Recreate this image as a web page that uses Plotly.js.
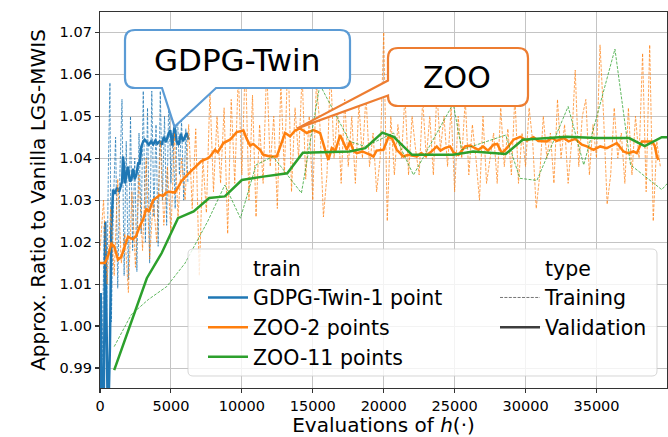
<!DOCTYPE html>
<html>
<head>
<meta charset="utf-8">
<script src="https://cdn.plot.ly/plotly-3.0.1.min.js"></script>
<style>
  html, body { margin: 0; padding: 0; background: #ffffff; }
  #chart { width: 668px; height: 437px; }
</style>
</head>
<body>
<div id="chart"></div>
<script>
// ---- GDPG-Twin-1 point ----
const gdpgTrainX = [0, 150, 300, 450, 600, 700, 800, 950, 1100, 1250, 1400, 1550, 1700, 1850, 2000, 2150, 2300, 2450, 2600, 2750,
  2900, 3050, 3200, 3350, 3500, 3650, 3800, 3950, 4100, 4250, 4400, 4550, 4700, 4850, 5000, 5150, 5300, 5450, 5600, 5750,
  5900, 6050, 6200];
const gdpgTrainY = [1.006, 0.992, 1.024, 0.998, 1.040, 1.058, 1.001, 1.030, 1.045, 1.009, 1.036, 1.054, 1.012, 1.044, 1.011, 1.050, 1.018, 1.040, 1.013, 1.046,
  1.022, 1.056, 1.020, 1.052, 1.015, 1.056, 1.026, 1.048, 1.019, 1.056, 1.030, 1.050, 1.024, 1.055, 1.034, 1.046, 1.028, 1.052, 1.036, 1.049,
  1.030, 1.047, 1.034];
const gdpgValX = [0, 50, 150, 250, 370, 480, 560, 700, 800, 920, 1050, 1200, 1350, 1480, 1560, 1620, 1700, 1760, 1850, 1975,
  2100, 2210, 2330, 2450, 2560, 2700, 2800, 2915, 3050, 3150, 3300, 3450, 3600, 3750, 3900, 4050, 4200, 4350, 4500, 4650,
  4800, 4950, 5100, 5250, 5400, 5550, 5700, 5850, 6000, 6100, 6250];
const gdpgValY = [0.975, 1.0079, 0.978, 0.975, 1.0249, 0.978, 0.975, 0.995, 1.0229, 1.0325, 1.0315, 1.0330, 1.0320, 1.0335, 1.0345, 1.0404, 1.0380, 1.0340, 1.0360, 1.0380,
  1.0345, 1.0348, 1.0375, 1.0350, 1.0360, 1.0390, 1.0385, 1.0428, 1.0440, 1.0444, 1.0438, 1.0432, 1.0440, 1.0433, 1.0442, 1.0435, 1.0440, 1.0432, 1.0451, 1.0438,
  1.0455, 1.0467, 1.0430, 1.0475, 1.0440, 1.0432, 1.0458, 1.0440, 1.0452, 1.0460, 1.0444];

// ---- ZOO-2 points ----
// training evaluations logged every 250 calls of h, starting at 0
const zoo2TrainStart = 0;
const zoo2TrainStep = 250;
const zoo2TrainY = [
  1.018, 1.030, 1.010, 1.028, 1.012, 1.035, 1.015, 1.022, 1.008, 1.032,
  1.014, 1.036, 1.018, 1.040, 1.016, 1.030, 1.020, 1.044, 1.024, 1.038,
  1.022, 1.046, 1.026, 1.040, 1.030, 1.048, 1.028, 1.047, 1.012, 1.040,
  1.027, 1.056, 1.032, 1.050, 1.034, 1.052, 1.022, 1.054, 1.034, 1.060,
  1.036, 1.064, 1.030, 1.055, 1.026, 1.048, 1.034, 1.062, 1.038, 1.050,
  1.028, 1.058, 1.036, 1.066, 1.032, 1.052, 1.040, 1.060, 1.035, 1.050,
  1.030, 1.058, 1.048, 1.026, 1.036, 1.062, 1.040, 1.052, 1.034, 1.054,
  1.038, 1.050, 1.034, 1.053, 1.040, 1.055, 1.038, 1.046, 1.032, 1.040,
  1.070, 1.025, 1.050, 1.036, 1.048, 1.040, 1.055, 1.036, 1.050, 1.042,
  1.036, 1.054, 1.040, 1.050, 1.036, 1.056, 1.042, 1.050, 1.038, 1.052,
  1.032, 1.050, 1.040, 1.054, 1.036, 1.048, 1.040, 1.030, 1.050, 1.034,
  1.040, 1.046, 1.034, 1.052, 1.038, 1.047, 1.036, 1.055, 1.034, 1.046,
  1.038, 1.052, 1.044, 1.028, 1.036, 1.050, 1.040, 1.046, 1.034, 1.054,
  1.040, 1.048, 1.034, 1.044, 1.061, 1.038, 1.050, 1.054, 1.036, 1.048,
  1.040, 1.067, 1.050, 1.029, 1.036, 1.052, 1.040, 1.046, 1.034, 1.052,
  1.036, 1.050, 1.040, 1.065, 1.032, 1.067, 1.025, 1.044, 1.038];
const zoo2ValX = [0, 350, 600, 800, 1000, 1270, 1500, 1750, 1975, 2330, 2550, 2800, 3050, 3265, 3450, 3740, 3950, 4210, 4450, 4650,
  4915, 5265, 5500, 5735, 6200, 6680, 7145, 7616, 7757, 8110, 8300, 8697, 9168, 9640, 10110, 10345, 10580, 10800, 11050, 11283,
  11516, 11990, 12460, 12813, 13046, 13400, 13750, 14100, 14576, 15045, 15515, 15870, 16100, 16340, 16600, 16925, 17150, 17395, 17630, 17865,
  18100, 18500, 18900, 19275, 19500, 19980, 20330, 20570, 20920, 21390, 21700, 22330, 22650, 22950, 23300, 23740, 24000, 24300, 24680, 24915,
  25270, 25740, 26100, 26680, 27000, 27350, 27740, 28000, 28330, 28680, 29150, 29620, 30100, 30560, 30900, 31500, 31850, 32200, 32675, 33030,
  33500, 33970, 34320, 34790, 35260, 35730, 36200, 36430, 36900, 37250, 37600, 37840, 38200, 38550, 38900, 39100, 39260, 39370];
const zoo2ValY = [1.0150, 1.0150, 1.0170, 1.0196, 1.0190, 1.0158, 1.0165, 1.0190, 1.0213, 1.0207, 1.0215, 1.0237, 1.0255, 1.0280, 1.0272, 1.0300, 1.0305, 1.0312, 1.0310, 1.0318,
  1.0320, 1.0318, 1.0330, 1.0345, 1.0362, 1.0378, 1.0393, 1.0400, 1.0404, 1.0420, 1.0414, 1.0436, 1.0444, 1.0462, 1.0466, 1.0446, 1.0430, 1.0434, 1.0426, 1.0420,
  1.0408, 1.0404, 1.0404, 1.0436, 1.0460, 1.0452, 1.0466, 1.0471, 1.0460, 1.0467, 1.0460, 1.0420, 1.0396, 1.0424, 1.0418, 1.0455, 1.0440, 1.0420, 1.0440, 1.0418,
  1.0412, 1.0416, 1.0410, 1.0404, 1.0418, 1.0420, 1.0450, 1.0448, 1.0420, 1.0404, 1.0408, 1.0404, 1.0412, 1.0405, 1.0414, 1.0428, 1.0418, 1.0424, 1.0428, 1.0414,
  1.0408, 1.0428, 1.0430, 1.0420, 1.0428, 1.0418, 1.0432, 1.0434, 1.0412, 1.0424, 1.0444, 1.0451, 1.0442, 1.0450, 1.0441, 1.0440, 1.0448, 1.0441, 1.0448, 1.0440,
  1.0446, 1.0432, 1.0428, 1.0420, 1.0428, 1.0424, 1.0432, 1.0436, 1.0416, 1.0412, 1.0416, 1.0412, 1.0440, 1.0440, 1.0440, 1.0430, 1.0404, 1.0396];

// ---- ZOO-11 points ----
const zoo11TrainX = [1000, 2200, 3400, 4700, 6000, 7600, 8800, 9900, 11000, 12200, 14200, 15500, 17600, 18700, 20700, 22100, 24900, 25500, 28600, 29600,
  30800, 33000, 34100, 36300, 37400, 39600, 40000];
const zoo11TrainY = [0.9951, 1.0027, 1.0063, 1.0094, 1.0150, 1.0250, 1.0336, 1.0257, 1.0384, 1.0404, 1.0317, 1.0575, 1.0440, 1.0428, 1.0460, 1.0360, 1.0530, 1.0420, 1.0455, 1.0352,
  1.0347, 1.0523, 1.0384, 1.0660, 1.0384, 1.0325, 1.0340];
const zoo11ValX = [1000, 3300, 4350, 5500, 6600, 7700, 8800, 10000, 11500, 13200, 14300, 17600, 18700, 19900, 20700, 22000, 24900, 26300, 28600, 29800,
  32900, 35000, 37300, 38400, 39600, 40000];
const zoo11ValY = [0.9895, 1.0114, 1.0174, 1.0257, 1.0273, 1.0305, 1.0309, 1.0348, 1.0356, 1.0364, 1.0413, 1.0416, 1.0424, 1.0461, 1.0451, 1.0408, 1.0408, 1.0416, 1.0410, 1.0444,
  1.0451, 1.0448, 1.0448, 1.0429, 1.0450, 1.0450];

// legend labels
const trainHeader = 'train';
const typeHeader = 'type';
const trainNames = ['GDPG-Twin-1 point', 'ZOO-2 points', 'ZOO-11 points'];
const typeNames = ['Training', 'Validation'];

// axis ticks
const xTicks = [0, 5000, 10000, 15000, 20000, 25000, 30000, 35000];
const yTicks = [0.99, 1.00, 1.01, 1.02, 1.03, 1.04, 1.05, 1.06, 1.07];

// callout labels and the points they point at
const calloutGdpg = { text: 'GDPG-Twin', x: 5250, y: 1.0475 };
const calloutZoo = { text: 'ZOO', x: 13900, y: 1.0471 };

// ---- drawing ----
const W = 668, H = 437;
const M = { l: 100, r: 1, t: 12, b: 49 };
const PW = W - M.l - M.r, PH = H - M.t - M.b;
const xRange = [0, 39970];
const yRange = [0.98524, 1.07483];

const C = { blue: '#1f77b4', orange: '#ff7f0e', green: '#2ca02c' };
const trainAlpha = { blue: 'rgba(31,119,180,0.75)', orange: 'rgba(255,127,14,0.7)', green: 'rgba(44,160,44,0.75)' };
const trainDash = '3px,1.4px';

// data value -> pixel
function dataPx(xv, yv) {
  return [M.l + (xv - xRange[0]) / (xRange[1] - xRange[0]) * PW,
          M.t + (yRange[1] - yv) / (yRange[1] - yRange[0]) * PH];
}
// pixel -> paper coordinate pair string
function pp(x, y) {
  return ((x - M.l) / PW).toFixed(5) + ',' + ((H - M.b - y) / PH).toFixed(5);
}
function pathFrom(cmds) {
  return cmds.map(c => c[0] + (c.length > 1 ? pp(c[1], c[2]) : '') + (c.length > 3 ? ' ' + pp(c[3], c[4]) : '')).join(' ');
}

function trainTrace(x, y, color) {
  return { type: 'scatter', mode: 'lines', x: x, y: y, showlegend: false, hoverinfo: 'skip',
           line: { color: color, width: 1, dash: trainDash } };
}
function valTrace(x, y, color) {
  return { type: 'scatter', mode: 'lines', x: x, y: y, showlegend: false, hoverinfo: 'skip',
           line: { color: color, width: 2.5 } };
}

const zoo2Train = trainTrace(null, zoo2TrainY, trainAlpha.orange);
delete zoo2Train.x;
zoo2Train.x0 = zoo2TrainStart;
zoo2Train.dx = zoo2TrainStep;

const traces = [
  trainTrace(gdpgTrainX, gdpgTrainY, trainAlpha.blue),
  valTrace(gdpgValX, gdpgValY, C.blue),
  zoo2Train,
  valTrace(zoo2ValX, zoo2ValY, C.orange),
  trainTrace(zoo11TrainX, zoo11TrainY, trainAlpha.green),
  valTrace(zoo11ValX, zoo11ValY, C.green)
];

// legend entries (headers carry no line, as in a seaborn legend)
function legendEntry(name, legend, line) {
  return { type: 'scatter', mode: 'lines', x: [null], y: [null], name: name, legend: legend,
           showlegend: true, hoverinfo: 'skip', line: line };
}
traces.push(legendEntry(trainHeader, 'legend', { color: 'rgba(0,0,0,0)', width: 0 }));
traces.push(legendEntry(trainNames[0], 'legend', { color: C.blue, width: 2.5 }));
traces.push(legendEntry(trainNames[1], 'legend', { color: C.orange, width: 2.5 }));
traces.push(legendEntry(trainNames[2], 'legend', { color: C.green, width: 2.5 }));
traces.push(legendEntry(typeHeader, 'legend2', { color: 'rgba(0,0,0,0)', width: 0 }));
traces.push(legendEntry(typeNames[0], 'legend2', { color: 'rgba(60,60,60,0.7)', width: 1, dash: trainDash }));
traces.push(legendEntry(typeNames[1], 'legend2', { color: '#3d3d3d', width: 2.5 }));

// rounded callout boxes with a pointer
const r = 10;
const gTip = dataPx(calloutGdpg.x, calloutGdpg.y);
const gBox = { x0: 125, y0: 30, x1: 350, y1: 88 };
const gdpgPath = pathFrom([
  ['M', gBox.x0 + r, gBox.y0], ['L', gBox.x1 - r, gBox.y0], ['Q', gBox.x1, gBox.y0, gBox.x1, gBox.y0 + r],
  ['L', gBox.x1, gBox.y1 - r], ['Q', gBox.x1, gBox.y1, gBox.x1 - r, gBox.y1],
  ['L', 216, gBox.y1], ['L', gTip[0], gTip[1]], ['L', 162, gBox.y1],
  ['L', gBox.x0 + r, gBox.y1], ['Q', gBox.x0, gBox.y1, gBox.x0, gBox.y1 - r],
  ['L', gBox.x0, gBox.y0 + r], ['Q', gBox.x0, gBox.y0, gBox.x0 + r, gBox.y0], ['Z']
]);
const zTip = dataPx(calloutZoo.x, calloutZoo.y);
const zBox = { x0: 388, y0: 48, x1: 528, y1: 106 };
const zooPath = pathFrom([
  ['M', zBox.x0 + r, zBox.y0], ['L', zBox.x1 - r, zBox.y0], ['Q', zBox.x1, zBox.y0, zBox.x1, zBox.y0 + r],
  ['L', zBox.x1, zBox.y1 - r], ['Q', zBox.x1, zBox.y1, zBox.x1 - r, zBox.y1],
  ['L', zBox.x0 + r, zBox.y1], ['Q', zBox.x0, zBox.y1, zBox.x0, zBox.y1 - r],
  ['L', zBox.x0, 95.5], ['L', zTip[0], zTip[1]], ['L', zBox.x0, 80.5],
  ['L', zBox.x0, zBox.y0 + r], ['Q', zBox.x0, zBox.y0, zBox.x0 + r, zBox.y0], ['Z']
]);
const lr = 5;
const lgBox = { x0: 188, y0: 249, x1: 657, y1: 376 };
const legendBgPath = pathFrom([
  ['M', lgBox.x0 + lr, lgBox.y0], ['L', lgBox.x1 - lr, lgBox.y0], ['Q', lgBox.x1, lgBox.y0, lgBox.x1, lgBox.y0 + lr],
  ['L', lgBox.x1, lgBox.y1 - lr], ['Q', lgBox.x1, lgBox.y1, lgBox.x1 - lr, lgBox.y1],
  ['L', lgBox.x0 + lr, lgBox.y1], ['Q', lgBox.x0, lgBox.y1, lgBox.x0, lgBox.y1 - lr],
  ['L', lgBox.x0, lgBox.y0 + lr], ['Q', lgBox.x0, lgBox.y0, lgBox.x0 + lr, lgBox.y0], ['Z']
]);

function paperX(x) { return (x - M.l) / PW; }
function paperY(y) { return (H - M.b - y) / PH; }

const font = 'DejaVu Sans, sans-serif';
const axisCommon = {
  showline: true, mirror: true, linecolor: '#333333', linewidth: 1.2,
  ticks: 'outside', ticklen: 4, tickwidth: 1.1, tickcolor: '#333333',
  showgrid: true, gridcolor: '#c4c4c4', gridwidth: 1, zeroline: false,
  tickfont: { family: font, size: 14.5, color: '#000000' }, automargin: false
};

const legendCommon = {
  yanchor: 'top', xanchor: 'left', y: paperY(248),
  bgcolor: 'rgba(0,0,0,0)', borderwidth: 0, itemwidth: 40, traceorder: 'normal',
  font: { family: font, size: 20.5, color: '#000000' }
};

const layout = {
  width: W, height: H, margin: M,
  paper_bgcolor: '#ffffff', plot_bgcolor: '#ffffff',
  font: { family: font, color: '#000000' },
  showlegend: true,
  xaxis: Object.assign({}, axisCommon, {
    range: xRange, tickmode: 'array', tickvals: xTicks, ticktext: xTicks.map(String),
    title: { text: 'Evaluations of <i>h</i>(·)', font: { family: font, size: 20, color: '#000000' }, standoff: 4 }
  }),
  yaxis: Object.assign({}, axisCommon, {
    range: yRange, tickmode: 'array', tickvals: yTicks, ticktext: yTicks.map(v => v.toFixed(2)),
    title: { text: 'Approx. Ratio to Vanilla LGS-MWIS', font: { family: font, size: 20, color: '#000000' }, standoff: 8 }
  }),
  legend: Object.assign({}, legendCommon, { x: paperX(203) }),
  legend2: Object.assign({}, legendCommon, { x: paperX(495) }),
  shapes: [
    { type: 'path', xref: 'paper', yref: 'paper', path: legendBgPath, layer: 'above',
      fillcolor: 'rgba(255,255,255,0.8)', line: { color: 'rgba(204,204,204,0.8)', width: 1 } },
    { type: 'path', xref: 'paper', yref: 'paper', path: gdpgPath, layer: 'above',
      fillcolor: '#ffffff', line: { color: '#5b9bd5', width: 2.2 } },
    { type: 'path', xref: 'paper', yref: 'paper', path: zooPath, layer: 'above',
      fillcolor: '#ffffff', line: { color: '#ed7d31', width: 2.2 } }
  ],
  annotations: [
    { xref: 'paper', yref: 'paper', x: paperX(237), y: paperY(60), xanchor: 'center', yanchor: 'middle',
      text: calloutGdpg.text, showarrow: false, font: { family: font, size: 31, color: '#000000' } },
    { xref: 'paper', yref: 'paper', x: paperX(457), y: paperY(77), xanchor: 'center', yanchor: 'middle',
      text: calloutZoo.text, showarrow: false, font: { family: font, size: 30, color: '#000000' } }
  ]
};

Plotly.newPlot('chart', traces, layout, { staticPlot: true, displayModeBar: false });
</script>
</body>
</html>
